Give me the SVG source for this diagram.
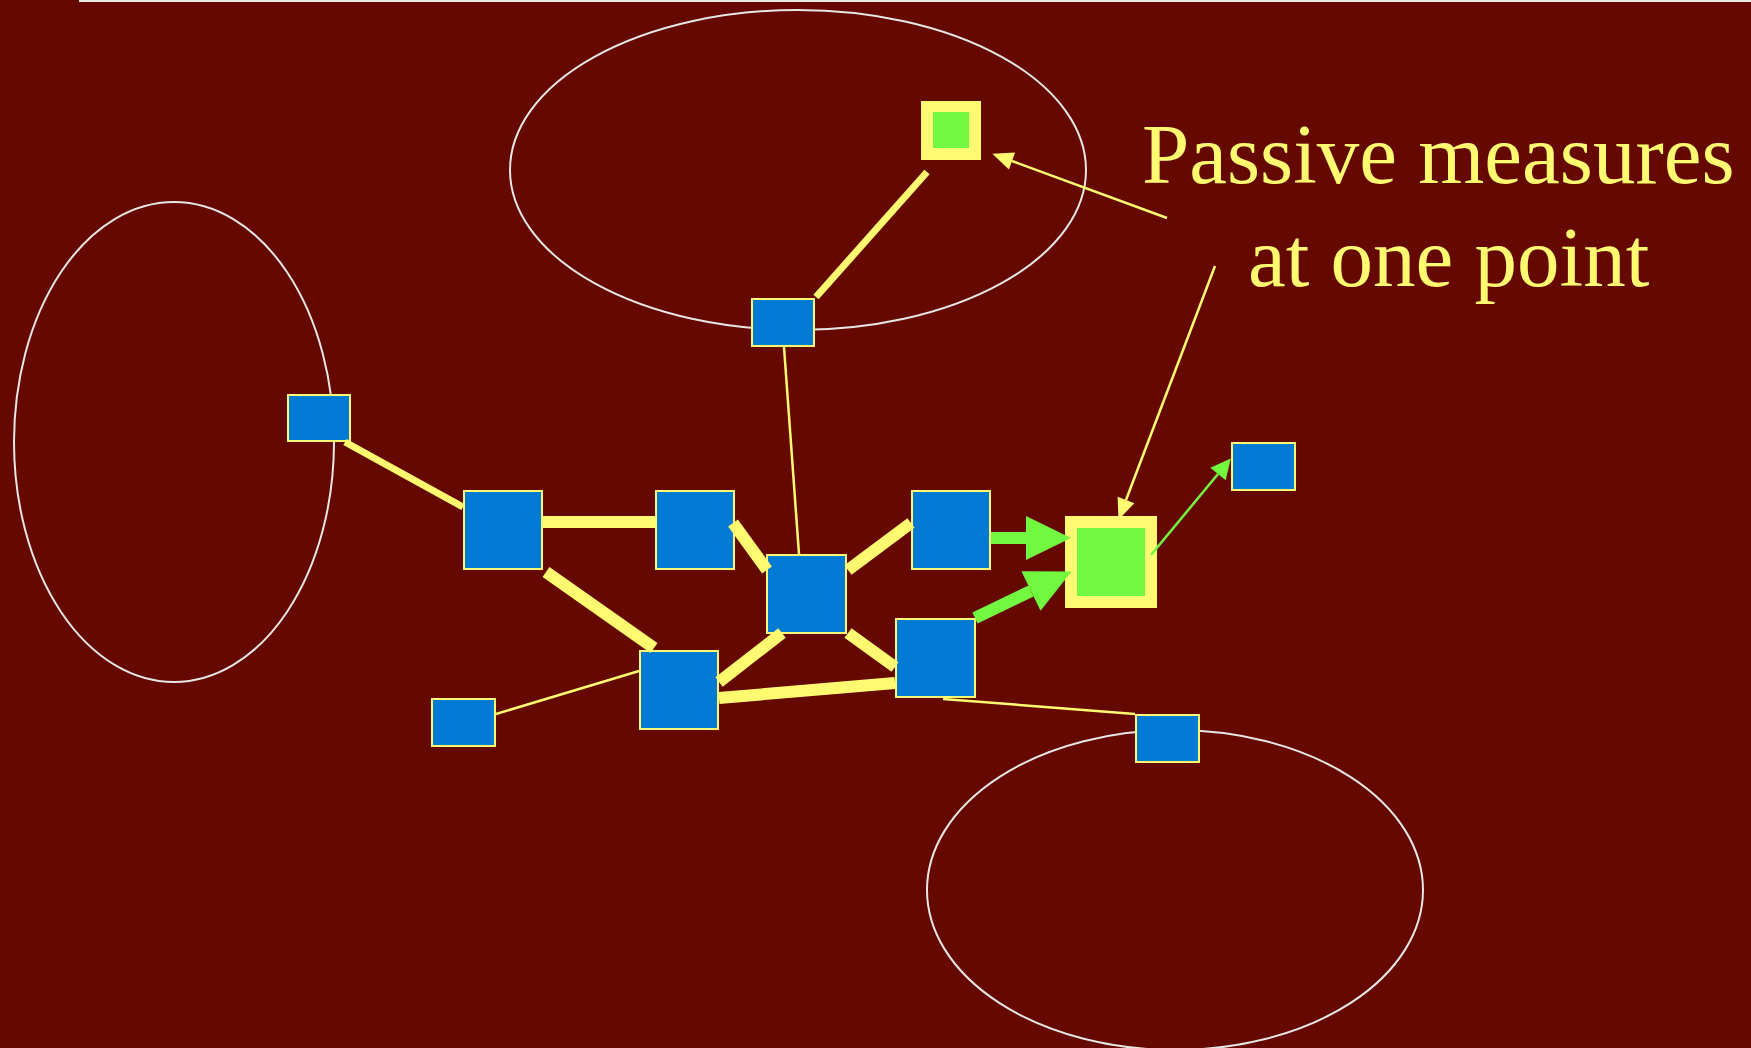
<svg xmlns="http://www.w3.org/2000/svg" width="1751" height="1048" viewBox="0 0 1751 1048">
<style>
.bg{fill:#640800}
.ring{fill:none;stroke:#E6E6E6;stroke-width:2}
.b{fill:#007AD3;stroke:#FFFA70;stroke-width:2}
.ky{fill:#FFFA70}
.kg{fill:#72F93F}
.y{stroke:#FFFA70;fill:none;stroke-linecap:butt}
.w12{stroke-width:12}
.w7{stroke-width:7}
.w2{stroke-width:2.5}
.g{stroke:#72F93F;fill:none}
.lbl{font-family:"Liberation Serif","Times New Roman",serif;font-size:85px;fill:#FFFA70}
</style>
<defs>
<marker id="gh" markerUnits="userSpaceOnUse" markerWidth="45" markerHeight="44" refX="0" refY="22" orient="auto" overflow="visible"><path d="M0,0 L45,22 L0,44 Z" fill="#72F93F"/></marker>
<marker id="gt" markerUnits="userSpaceOnUse" markerWidth="20" markerHeight="20" refX="0" refY="10" orient="auto" overflow="visible"><path d="M0,0 L20,10 L0,20 Z" fill="#72F93F"/></marker>
<marker id="yh" markerUnits="userSpaceOnUse" markerWidth="21" markerHeight="18" refX="0" refY="9" orient="auto" overflow="visible"><path d="M0,0 L21,9 L0,18 Z" fill="#FFFA70"/></marker>
</defs>
<rect class="bg" x="0" y="0" width="1751" height="1048"/>
<rect x="79" y="0" width="1672" height="2" fill="#E8E8E8"/>
<g id="regions">
<ellipse class="ring" cx="798" cy="170" rx="288" ry="160"/>
<ellipse class="ring" cx="174" cy="442" rx="160" ry="240"/>
<ellipse class="ring" cx="1175" cy="890" rx="248" ry="160"/>
</g>
<g id="n1"><rect class="b" x="288" y="395" width="62" height="46"/></g>
<g id="nA"><rect class="b" x="464" y="491" width="78" height="78"/></g>
<g id="nB"><rect class="b" x="656" y="491" width="78" height="78"/></g>
<g id="nC"><rect class="b" x="767" y="555" width="79" height="78"/></g>
<g id="nD"><rect class="b" x="912" y="491" width="78" height="78"/></g>
<g id="nE"><rect class="b" x="896" y="619" width="79" height="78"/></g>
<g id="nF"><rect class="b" x="640" y="651" width="78" height="78"/></g>
<g id="nG"><rect class="b" x="432" y="699" width="63" height="47"/></g>
<g id="nH"><rect class="b" x="752" y="299" width="62" height="47"/></g>
<g id="nI"><rect class="b" x="1136" y="715" width="63" height="47"/></g>
<g id="nJ"><rect class="b" x="1232" y="443" width="63" height="47"/></g>
<g id="nK"><rect class="ky" x="921" y="101" width="60" height="59"/><rect class="kg" x="933" y="112" width="36" height="36"/></g>
<g id="nL"><rect class="ky" x="1065" y="516" width="92" height="92"/><rect class="kg" x="1077" y="528" width="68" height="68"/></g>
<g id="connectors">
<line class="y w7" x1="345" y1="442" x2="463" y2="507"/>
<line class="y w12" x1="543" y1="522" x2="655" y2="522"/>
<line class="y w12" x1="546" y1="572" x2="654" y2="648"/>
<line class="y w12" x1="733" y1="523" x2="767" y2="570"/>
<line class="y w12" x1="848" y1="570" x2="911" y2="523"/>
<line class="y w12" x1="782" y1="633" x2="719" y2="682"/>
<line class="y w12" x1="848" y1="633" x2="895" y2="667"/>
<line class="y w12" x1="719" y1="698" x2="895" y2="683"/>
<line class="y w2" x1="496" y1="714" x2="639" y2="671"/>
<line class="y w2" x1="943" y1="699" x2="1135" y2="714"/>
<line class="y w2" x1="784" y1="347" x2="799" y2="554"/>
<line class="y w7" x1="816" y1="297" x2="927" y2="172"/>
<line class="g w12" x1="991" y1="538" x2="1026" y2="538" marker-end="url(#gh)"/>
<line class="g w12" x1="975" y1="618" x2="1031" y2="591" marker-end="url(#gh)"/>
<line class="g w2" x1="1151" y1="555" x2="1218" y2="474" marker-end="url(#gt)"/>
<line class="y w2" x1="1167" y1="218" x2="1012" y2="161" marker-end="url(#yh)"/>
<line class="y w2" x1="1215" y1="266" x2="1126" y2="500" marker-end="url(#yh)"/>
</g>
<g id="label">
<text class="lbl" x="1142" y="183">Passive measures</text>
<text class="lbl" x="1248" y="286">at one point</text>
</g>
</svg>
